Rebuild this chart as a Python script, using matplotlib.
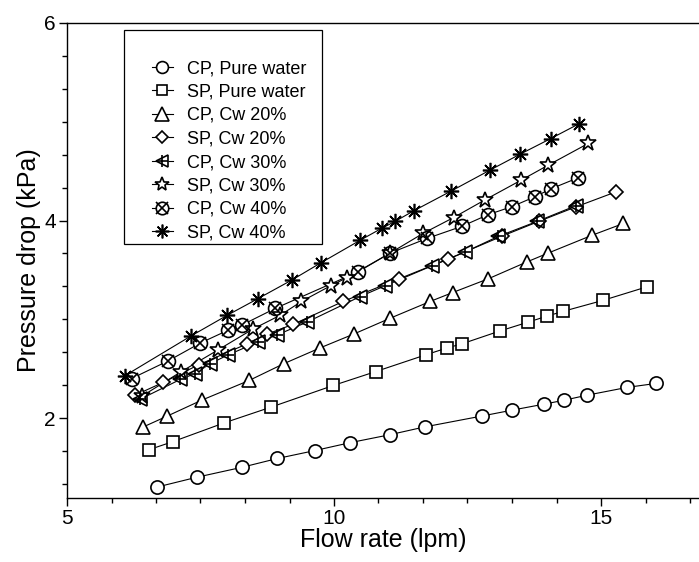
import matplotlib
matplotlib.use("Agg")
import matplotlib.pyplot as plt
from matplotlib.ticker import MultipleLocator, FixedLocator
from matplotlib.legend_handler import HandlerTuple
from matplotlib.patches import Rectangle

plt.rcParams['font.family'] = ['Liberation Sans', 'DejaVu Sans']

# flow rate (lpm) and pressure drop (kPa) per case
cp_water_x = [6.68, 7.43, 8.27, 8.94, 9.64, 10.30, 11.04, 11.70, 12.77, 13.34, 13.93, 14.31, 14.73, 15.49, 16.03]
cp_water_y = [1.30, 1.40, 1.50, 1.59, 1.67, 1.75, 1.83, 1.91, 2.02, 2.08, 2.14, 2.18, 2.23, 2.31, 2.35]

sp_water_x = [6.54, 6.98, 7.94, 8.82, 9.99, 10.78, 11.72, 12.12, 12.39, 13.10, 13.63, 13.98, 14.29, 15.03, 15.87]
sp_water_y = [1.68, 1.76, 1.95, 2.11, 2.33, 2.47, 2.64, 2.71, 2.75, 2.88, 2.97, 3.03, 3.08, 3.19, 3.33]

cp_cw20_x = [6.43, 6.88, 7.52, 8.41, 9.06, 9.74, 10.37, 11.05, 11.80, 12.22, 12.89, 13.61, 14.01, 14.83, 15.42]
cp_cw20_y = [1.91, 2.02, 2.18, 2.38, 2.55, 2.71, 2.85, 3.01, 3.18, 3.27, 3.41, 3.58, 3.67, 3.85, 3.97]

sp_cw20_x = [6.27, 6.80, 7.47, 8.37, 8.75, 9.24, 10.17, 11.22, 12.14, 13.14, 13.83, 14.54, 15.28]
sp_cw20_y = [2.23, 2.36, 2.54, 2.75, 2.85, 2.95, 3.18, 3.41, 3.61, 3.84, 3.99, 4.14, 4.29]

cp_cw30_x = [6.37, 7.12, 7.40, 7.68, 8.02, 8.58, 8.93, 9.49, 10.49, 10.96, 11.83, 12.45, 13.08, 13.80, 14.53]
cp_cw30_y = [2.19, 2.39, 2.45, 2.55, 2.64, 2.77, 2.84, 2.97, 3.23, 3.34, 3.54, 3.68, 3.84, 3.99, 4.15]

sp_cw30_x = [6.40, 7.14, 7.83, 8.48, 8.99, 9.39, 9.94, 10.24, 11.05, 11.67, 12.24, 12.83, 13.51, 14.01, 14.76]
sp_cw30_y = [2.22, 2.47, 2.69, 2.90, 3.04, 3.18, 3.34, 3.42, 3.67, 3.87, 4.03, 4.21, 4.41, 4.56, 4.78]

cp_cw40_x = [6.21, 6.90, 7.50, 8.02, 8.27, 8.90, 10.45, 11.05, 11.75, 12.39, 12.89, 13.33, 13.76, 14.06, 14.56]
cp_cw40_y = [2.40, 2.58, 2.76, 2.89, 2.94, 3.11, 3.48, 3.67, 3.82, 3.94, 4.06, 4.14, 4.24, 4.32, 4.43]

sp_cw40_x = [6.09, 7.32, 8.00, 8.58, 9.22, 9.75, 10.49, 10.89, 11.14, 11.50, 12.20, 12.92, 13.48, 14.06, 14.59]
sp_cw40_y = [2.43, 2.83, 3.04, 3.21, 3.40, 3.57, 3.80, 3.92, 3.99, 4.10, 4.30, 4.51, 4.67, 4.83, 4.98]

labels = ["CP, Pure water", "SP, Pure water", "CP, Cw 20%", "SP, Cw 20%",
          "CP, Cw 30%", "SP, Cw 30%", "CP, Cw 40%", "SP, Cw 40%"]

fig = plt.figure(figsize=(6.99, 5.62), dpi=100)
ax = fig.add_axes([67 / 699, 64 / 562, 632 / 699, 475 / 562])

series = [
    (cp_water_x, cp_water_y, 'o', 9.5, None),
    (sp_water_x, sp_water_y, 's', 8.3, None),
    (cp_cw20_x, cp_cw20_y, '^', 10.5, None),
    (sp_cw20_x, sp_cw20_y, 'D', 7.2, None),
    (cp_cw30_x, cp_cw30_y, '<', 10.0, '+'),
    (sp_cw30_x, sp_cw30_y, '*', 12.0, None),
    (cp_cw40_x, cp_cw40_y, 'o', 10.0, 'x'),
    (sp_cw40_x, sp_cw40_y, (8, 2, 0), 11.0, None),
]

handles = []
for x, y, m, ms, extra in series:
    # line first, then a white fill so the line stops at each symbol, then the outline
    line, = ax.plot(x, y, color='k', lw=0.8, zorder=2)
    fill, = ax.plot(x, y, ls='none', marker=m, ms=ms, mfc='white', mec='none', zorder=3)
    edge, = ax.plot(x, y, ls='none', marker=m, ms=ms, mfc='none', mec='k', mew=1.2, zorder=4)
    parts = [line, fill, edge]
    if extra is not None:
        over, = ax.plot(x, y, ls='none', marker=extra, ms=ms * 0.9, mec='k', mew=1.2, zorder=4)
        parts.append(over)
    handles.append(tuple(parts))

ax.set_xlim(5, 5 + 632 / 53.4)
ax.set_ylim(6 - 475 / 98.75, 6)
ax.xaxis.set_major_locator(FixedLocator([5, 10, 15]))
ax.xaxis.set_minor_locator(MultipleLocator(5 / 6))
ax.yaxis.set_major_locator(FixedLocator([2, 4, 6]))
ax.yaxis.set_minor_locator(MultipleLocator(1 / 3))
ax.tick_params(which='major', direction='out', length=6, width=1.0, labelsize=15, pad=2)
ax.tick_params(which='minor', direction='out', length=3.5, width=1.0)
ax.spines['right'].set_visible(False)
for s in ['left', 'bottom', 'top']:
    ax.spines[s].set_linewidth(1.0)

ax.set_xlabel("Flow rate (lpm)", fontsize=18, labelpad=0)
ax.set_ylabel("Pressure drop (kPa)", fontsize=18, labelpad=2)

# legend box drawn by hand, entries placed inside it
fig.patches.append(Rectangle((124 / 699, 1 - 244 / 562), 198 / 699, 214 / 562,
                             transform=fig.transFigure, fill=False, ec='k', lw=0.9))
fig.legend(handles, labels, loc='upper left', bbox_to_anchor=(152 / 699, 1 - 60 / 562),
           frameon=False, fontsize=13, borderpad=0, borderaxespad=0, labelspacing=0.36,
           handlelength=1.15, handletextpad=0.8, numpoints=1, markerscale=0.9,
           handler_map={tuple: HandlerTuple(ndivide=1, pad=0)})

fig.savefig("out.png", dpi=100)
